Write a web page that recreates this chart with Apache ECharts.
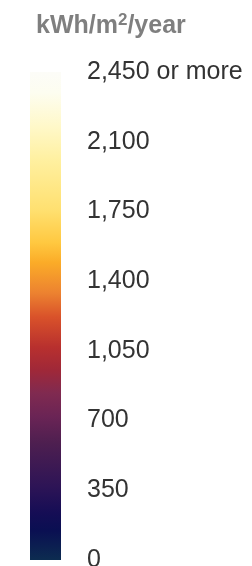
<!DOCTYPE html>
<html><head><meta charset="utf-8">
<script src="https://cdn.jsdelivr.net/npm/echarts@6/dist/echarts.min.js"></script>
<style>html,body{margin:0;padding:0;background:#fff;}#c{width:252px;height:566px;}</style>
</head><body><div id="c"></div>
<script>
var unitTitle = 'kWh/m{sup|2}/year';
var categories = ['scale'];
var scaleMax = [2450];
var tickValues = [0, 350, 700, 1050, 1400, 1750, 2100, 2450];
var tickLabels = ['0', '350', '700', '1,050', '1,400', '1,750', '2,100', '2,450 or more'];

var chart = echarts.init(document.getElementById('c'), null, {renderer: 'canvas'});
var stops = [
  {offset: 0.000, color: '#fcfcf8'},
  {offset: 0.043, color: '#fdfdf0'},
  {offset: 0.113, color: '#fff8c8'},
  {offset: 0.180, color: '#fff0a0'},
  {offset: 0.283, color: '#ffe070'},
  {offset: 0.350, color: '#ffc840'},
  {offset: 0.390, color: '#fbac28'},
  {offset: 0.453, color: '#ec8230'},
  {offset: 0.502, color: '#d9522a'},
  {offset: 0.564, color: '#b8302e'},
  {offset: 0.610, color: '#a02838'},
  {offset: 0.658, color: '#802a50'},
  {offset: 0.707, color: '#6a2455'},
  {offset: 0.760, color: '#4e1f50'},
  {offset: 0.850, color: '#2d1456'},
  {offset: 0.904, color: '#150d55'},
  {offset: 0.939, color: '#0a0f52'},
  {offset: 1.000, color: '#0c2c50'}
];
chart.setOption({
  animation: false,
  title: {
    text: unitTitle, left: 31, top: 7,
    textStyle: {
      fontFamily: 'Liberation Sans', fontSize: 25, fontWeight: 'bold', color: '#7f7f7f',
      rich: {sup: {fontFamily: 'Liberation Sans', fontSize: 17, fontWeight: 'bold', color: '#7f7f7f', verticalAlign: 'top', padding: [0,0,12,0]}}
    }
  },
  grid: {left: 30, width: 31, top: 72, bottom: 6, containLabel: false, outerBoundsMode: 'none'},
  xAxis: {type: 'category', data: categories, show: false},
  yAxis: {
    type: 'value', min: 0, max: 2450, interval: 350, position: 'right',
    axisLine: {show: false}, axisTick: {show: false}, splitLine: {show: false},
    axisLabel: {
      margin: 26, fontFamily: 'Liberation Sans', fontSize: 25, color: '#333',
      padding: [0, 0, 6, 0],
      formatter: function (v) { var i = tickValues.indexOf(v); return i >= 0 ? tickLabels[i] : ''; }
    }
  },
  series: [{
    type: 'bar', data: scaleMax, barWidth: '100%',
    itemStyle: {color: new echarts.graphic.LinearGradient(0, 0, 0, 1, stops)}
  }]
});
</script></body></html>
